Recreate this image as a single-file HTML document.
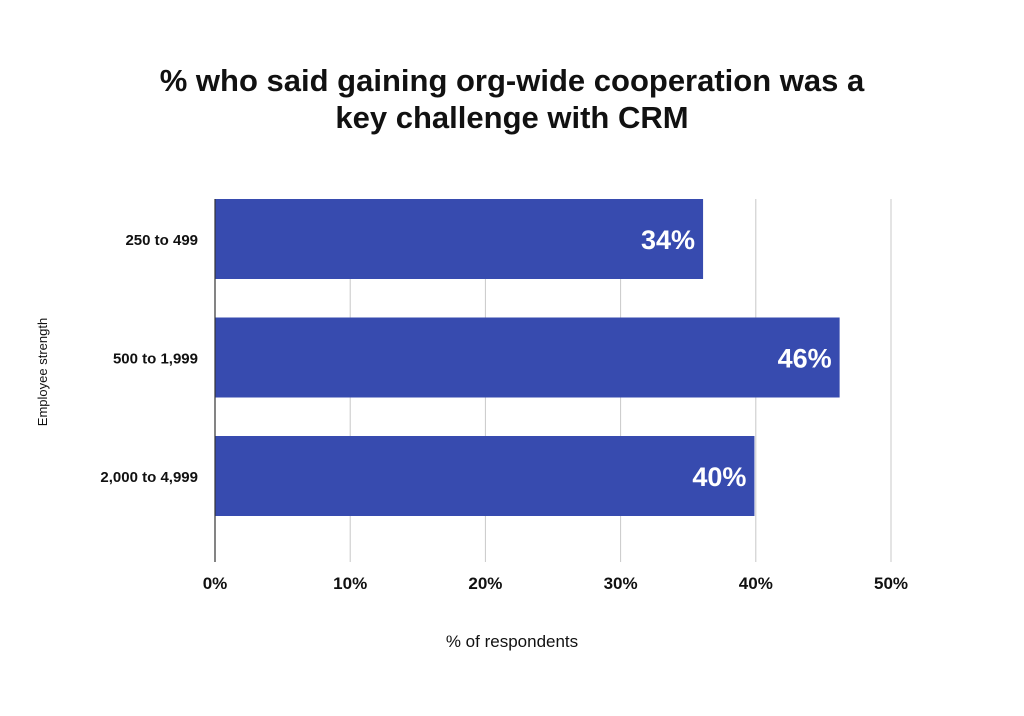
<!DOCTYPE html>
<html><head><meta charset="utf-8"><style>
html,body{margin:0;padding:0;background:#fff;}
body{width:1024px;height:711px;overflow:hidden;font-family:"Liberation Sans",sans-serif;}
</style></head><body>
<svg width="1024" height="711" viewBox="0 0 1024 711">
<text x="512" y="91" text-anchor="middle" font-size="31" font-weight="bold" fill="#111">% who said gaining org-wide cooperation was a</text>
<text x="512" y="128" text-anchor="middle" font-size="31" font-weight="bold" fill="#111">key challenge with CRM</text>
<g id="grid"></g><g id="bars"></g><g id="axes"></g>
<text x="512" y="647" text-anchor="middle" font-size="17" fill="#111">% of respondents</text>
<text transform="translate(47,372) rotate(-90)" text-anchor="middle" font-size="13" fill="#111">Employee strength</text>
</svg>
<script>
const categories = ["250 to 499", "500 to 1,999", "2,000 to 4,999"];
const values = [36.1, 46.2, 39.9];
const valueLabels = ["34%", "46%", "40%"];
const ticks = [0, 10, 20, 30, 40, 50];
const tickLabels = ["0%", "10%", "20%", "30%", "40%", "50%"];
const NS = "http://www.w3.org/2000/svg";
const x = v => 215 + v * (891 - 215) / 50;
const y = i => 199 + i * 118.5;
const barH = 80;
function mk(tag, attrs, parent, txt) {
  const e = document.createElementNS(NS, tag);
  for (const k in attrs) e.setAttribute(k, attrs[k]);
  if (txt !== undefined) e.textContent = txt;
  parent.appendChild(e); return e;
}
const grid = document.getElementById('grid'), bars = document.getElementById('bars'), axes = document.getElementById('axes');
ticks.forEach((t, i) => {
  if (t > 0) {
    const l = mk('line', {x1: x(t), x2: x(t), y1: 199, y2: 562, stroke: '#c8c8c8', 'stroke-width': 1}, grid);
    
    
  }
  const tl = mk('text', {x: x(t), y: 589, 'text-anchor': 'middle', 'font-size': 17, 'font-weight': 'bold', fill: '#111'}, axes, tickLabels[i]);
  
  
});
const ax = mk('line', {x1: 215, x2: 215, y1: 199, y2: 562, stroke: '#333', 'stroke-width': 1.2}, axes);


categories.forEach((c, i) => {
  const r = mk('rect', {x: 215, y: y(i), width: x(values[i]) - 215, height: barH, fill: '#374baf'}, bars);
  
  
  const v = mk('text', {x: x(values[i]) - 8, y: y(i) + barH / 2 + 10, 'text-anchor': 'end', 'font-size': 27, 'font-weight': 'bold', fill: '#fff'}, bars, valueLabels[i]);
  
  
  const cl = mk('text', {x: 198, y: y(i) + barH / 2 + 6, 'text-anchor': 'end', 'font-size': 15, 'font-weight': 'bold', fill: '#111'}, axes, c);
  
  
});
</script>
</body></html>
